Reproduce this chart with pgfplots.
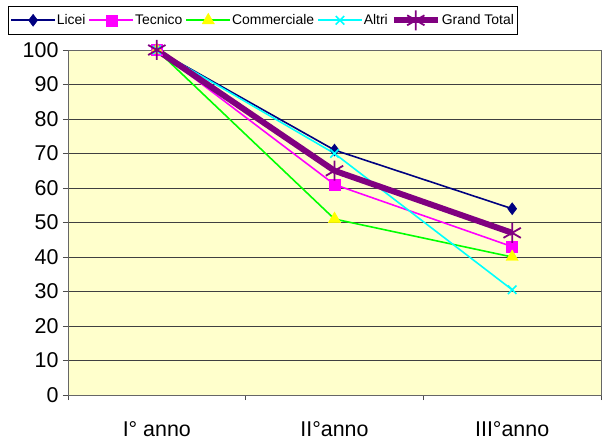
\documentclass[border=0pt]{standalone}
\usepackage{pgfplots}
\pgfplotsset{compat=1.18}
\usepackage{fontspec}
\setmainfont{Liberation Sans}
\definecolor{plotbg}{HTML}{FFFFCC}
\definecolor{licei}{HTML}{000080}
\definecolor{tecnico}{HTML}{FF00FF}
\definecolor{comm}{HTML}{00FF00}
\definecolor{commmark}{HTML}{FFFF00}
\definecolor{altri}{HTML}{00FFFF}
\definecolor{gt}{HTML}{800080}
\begin{document}
\begin{tikzpicture}
\begin{axis}[
  at={(0,0)}, anchor=south west,
  scale only axis, width=533bp, height=345bp,
  xmin=-0.5, xmax=2.5, ymin=0, ymax=100,
  axis background/.style={fill=plotbg},
  axis line style={draw=gray!80!black, line width=0.8pt},
  xtick={-0.5,0.5,1.5,2.5},
  x tick label as interval,
  xticklabels={I° anno,II°anno,III°anno},
  ytick={0,10,...,100},
  ymajorgrids, grid style={black!75, line width=0.6pt},
  tick style={gray!60!black, line width=0.8pt},
  tick align=outside, major tick length=5bp,
  xtick pos=bottom, ytick pos=left,
  ticklabel style={font=\fontsize{21.5}{24}\selectfont},
  /pgf/number format/assume math mode=true,
  yticklabel style={xshift=-1bp},
  xticklabel style={yshift=-18bp},
  clip=false,
  legend columns=5,
  legend style={at={(-0.11257,1.12754)}, anchor=north west, draw=black, line width=0.6pt, fill=white,
    font=\fontsize{14}{16}\selectfont, inner xsep=2bp, inner ysep=4bp,
    nodes={inner xsep=1bp, inner ysep=2bp},
    /tikz/every odd column/.append style={column sep=0bp},
    /tikz/every even column/.append style={column sep=2bp}},
  legend image code/.code={\draw[mark repeat=2,mark phase=2,#1] plot coordinates {(0bp,0bp) (22bp,0bp) (44bp,0bp)};},
]
\addplot[licei, line width=1.6pt, mark=diamond*, mark size=6bp, mark options={fill=licei, draw=licei, line width=0.5pt}]
  coordinates {(0,100) (1,71) (2,54)};
\addlegendentry{Licei}
\addplot[tecnico, line width=1.6pt, mark=square*, mark size=5.5bp, mark options={fill=tecnico, draw=tecnico, line width=0.5pt}]
  coordinates {(0,100) (1,61) (2,43)};
\addlegendentry{Tecnico}
\addplot[comm, line width=1.6pt, mark=triangle*, mark size=7bp, mark options={fill=commmark, draw=commmark, line width=0.5pt}]
  coordinates {(0,100) (1,51) (2,40)};
\addlegendentry{Commerciale}
\addplot[altri, line width=1.6pt, mark=x, mark size=6bp, mark options={draw=altri, line width=1.6pt}]
  coordinates {(0,100) (1,70) (2,30.5)};
\addlegendentry{Altri}
\addplot[gt, line width=6pt, mark=asterisk, mark size=10bp, mark options={draw=gt, line width=1.8pt}]
  coordinates {(0,100) (1,65) (2,47)};
\addlegendentry{Grand Total}
\end{axis}
\path (-68bp,-52bp) rectangle (539bp,395bp);
\end{tikzpicture}
\end{document}
